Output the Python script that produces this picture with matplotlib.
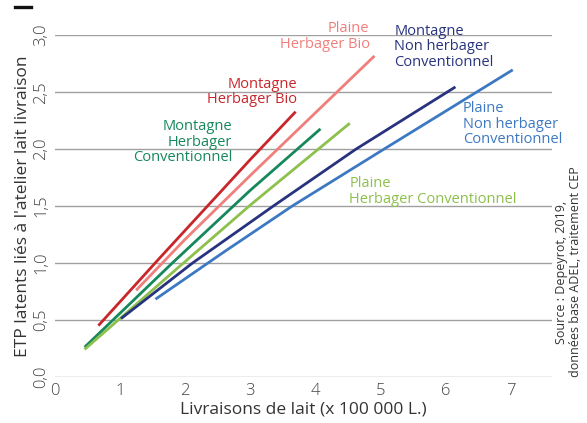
import matplotlib
matplotlib.use("Agg")
import matplotlib.pyplot as plt
from matplotlib.lines import Line2D

plt.rcParams['font.family'] = ['Open Sans', 'DejaVu Sans']

# Series values (x in 100 000 L., y in ETP)
mhb_x = [0.68, 1.60, 3.00, 3.68]
mhb_y = [0.46, 1.04, 1.91, 2.32]
phb_x = [1.26, 2.00, 3.00, 4.89]
phb_y = [0.77, 1.21, 1.77, 2.81]
mhc_x = [0.47, 1.80, 3.00, 4.06]
mhc_y = [0.27, 1.00, 1.64, 2.17]
phc_x = [0.47, 1.80, 3.00, 4.51]
phc_y = [0.25, 0.915, 1.51, 2.22]
mnc_x = [1.03, 2.11, 3.35, 4.62, 6.13]
mnc_y = [0.52, 1.00, 1.50, 2.00, 2.54]
pnc_x = [1.56, 2.60, 3.64, 5.05, 7.01]
pnc_y = [0.69, 1.10, 1.50, 2.00, 2.69]

x_ticks = [0, 1, 2, 3, 4, 5, 6, 7]
y_ticks = [0.0, 0.5, 1.0, 1.5, 2.0, 2.5, 3.0]
y_tick_labels = ['0,0', '0,5', '1,0', '1,5', '2,0', '2,5', '3,0']

c_mhb = '#c8262b'
c_phb = '#f07f7c'
c_mhc = '#17875c'
c_phc = '#8dc04c'
c_mnc = '#28337f'
c_pnc = '#3d79c2'

fig = plt.figure(figsize=(5.87, 4.23), dpi=100)
ax = fig.add_axes([0.0937, 0.1087, 0.8466, 0.808])

for y in y_ticks:
    ax.axhline(y, color='#a0a0a0', lw=1.0, zorder=1)

lw = 2.0
ax.plot(mhb_x, mhb_y, color=c_mhb, lw=lw, zorder=3)
ax.plot(phb_x, phb_y, color=c_phb, lw=lw, zorder=3)
ax.plot(mhc_x, mhc_y, color=c_mhc, lw=lw, zorder=3)
ax.plot(phc_x, phc_y, color=c_phc, lw=lw, zorder=3)
ax.plot(mnc_x, mnc_y, color=c_mnc, lw=lw, zorder=3)
ax.plot(pnc_x, pnc_y, color=c_pnc, lw=lw, zorder=3)

ax.set_xlim(0, 7.63)
ax.set_ylim(0, 3.0)
for s in ax.spines.values():
    s.set_visible(False)
ax.set_xticks(x_ticks)
ax.set_xticklabels([str(v) for v in x_ticks], fontsize=12, color='#444444', fontweight='light')
ax.set_yticks(y_ticks)
ax.set_yticklabels(y_tick_labels, fontsize=12, color='#444444', rotation=90, va='center',
                   fontweight='light')
ax.tick_params(length=0, pad=4)

ax.set_xlabel('Livraisons de lait (x 100 000 L.)', fontsize=12.5, color='#333333', labelpad=2)
ax.set_ylabel("ETP latents liés à l'atelier lait livraison", fontsize=12.5, color='#333333', labelpad=2)

fs = 10.5
ax.text(4.83, 2.99, 'Plaine\nHerbager Bio', color=c_phb, fontsize=fs, ha='right', va='center', linespacing=1.05)
ax.text(3.72, 2.50, 'Montagne\nHerbager Bio', color=c_mhb, fontsize=fs, ha='right', va='center', linespacing=1.05)
ax.text(2.72, 2.06, 'Montagne\nHerbager\nConventionnel', color=c_mhc, fontsize=fs, ha='right', va='center', linespacing=1.05)
ax.text(5.21, 2.90, 'Montagne\nNon herbager\nConventionnel', color=c_mnc, fontsize=fs, ha='left', va='center', linespacing=1.05)
ax.text(6.26, 2.22, 'Plaine\nNon herbager\nConventionnel', color=c_pnc, fontsize=fs, ha='left', va='center', linespacing=1.05)
ax.text(4.52, 1.63, 'Plaine\nHerbager Conventionnel', color=c_phc, fontsize=fs, ha='left', va='center', linespacing=1.05)

fig.text(0.968, 0.108, 'Source : Depeyrot, 2019,\ndonnées base ADEL, traitement CEP',
         rotation=90, fontsize=9, color='#333333', ha='center', va='bottom', linespacing=1.1)

fig.add_artist(Line2D([15 / 587, 31 / 587], [1 - 7.5 / 423, 1 - 7.5 / 423],
                      color='#111111', lw=2.4, transform=fig.transFigure))

fig.savefig('out.png', dpi=100)
